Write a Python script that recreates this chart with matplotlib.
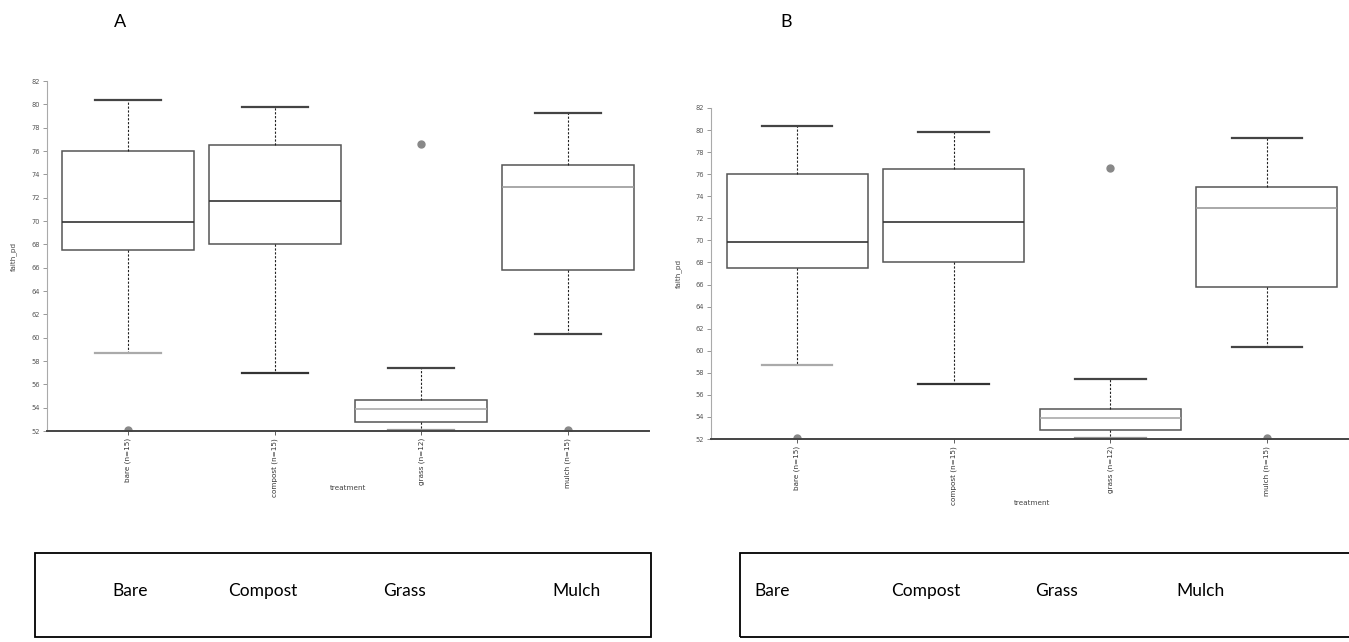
from matplotlib import pyplot as plt
from matplotlib.patches import Rectangle

# box statistics (same data in both panels)
labels  = ["bare (n=15)", "compost (n=15)", "grass (n=12)", "mulch (n=15)"]
whislo  = [58.7, 57.0, 52.1, 60.3]
q1      = [67.5, 68.0, 52.8, 65.8]
med     = [69.9, 71.7, 53.9, 72.9]
q3      = [76.0, 76.5, 54.7, 74.8]
whishi  = [80.4, 79.8, 57.4, 79.3]
fliers  = [[52.1], [], [76.6], [52.1]]
yticks  = [52, 54, 56, 58, 60, 62, 64, 66, 68, 70, 72, 74, 76, 78, 80, 82]
names   = ["Bare", "Compost", "Grass", "Mulch"]

# little colour differences of the original rendering
med_col = ["#333333", "#333333", "#aaaaaa", "#999999"]
lo_col  = ["#aaaaaa", "#333333", "#999999", "#444444"]

stats = []
for i in range(len(labels)):
    stats.append(dict(label=labels[i], whislo=whislo[i], q1=q1[i], med=med[i],
                      q3=q3[i], whishi=whishi[i], fliers=fliers[i]))

fig = plt.figure(figsize=(13.49, 6.42), dpi=100)
W, H = 1349.0, 642.0


def panel(rect, ylab_x, xlab_y):
    ax = fig.add_axes(rect)
    pos = list(range(len(stats)))
    res = ax.bxp(stats, positions=pos, widths=0.9, patch_artist=True,
                 boxprops=dict(facecolor="white", edgecolor="#555555", linewidth=1.1),
                 medianprops=dict(color="#333333", linewidth=1.2),
                 whiskerprops=dict(color="#222222", linewidth=0.8, linestyle=(0, (2, 1.5))),
                 capprops=dict(color="#444444", linewidth=1.6),
                 capwidths=0.45,
                 flierprops=dict(marker="o", markersize=5, markerfacecolor="#888888",
                                 markeredgecolor="#888888"))
    for i, m in enumerate(res["medians"]):
        m.set_color(med_col[i])
    for i in range(len(stats)):
        res["caps"][2 * i].set_color(lo_col[i])
    ax.set_xlim(-0.55, 3.55)
    ax.set_ylim(52, 82)
    ax.set_yticks(yticks)
    ax.set_yticklabels([str(v) for v in yticks], fontsize=4.8, color="#555555")
    ax.set_xticks(pos)
    ax.set_xticklabels(labels, rotation=90, fontsize=5.2, color="#333333")
    ax.tick_params(axis="y", length=3, width=0.6, color="#888888", pad=2)
    ax.tick_params(axis="x", length=3, width=0.6, color="#444444", pad=2)
    for s in ["top", "right"]:
        ax.spines[s].set_visible(False)
    ax.spines["left"].set_color("#aaaaaa")
    ax.spines["left"].set_linewidth(0.8)
    ax.spines["bottom"].set_color("#444444")
    ax.spines["bottom"].set_linewidth(1.4)
    ax.set_ylabel("faith_pd", fontsize=5.2, color="#444444")
    ax.yaxis.set_label_coords(ylab_x, 0.5)
    ax.set_xlabel("treatment", fontsize=5.2, color="#444444")
    ax.xaxis.set_label_coords(0.5, xlab_y)
    return ax


# panel A
panel([47 / W, (H - 431) / H, 602 / W, 350 / H], -0.05, -0.155)
# panel B (runs off the right edge)
panel([711 / W, (H - 439) / H, 642 / W, 331 / H], -0.045, -0.185)

fig.text(120 / W, 1 - 22 / H, "A", fontsize=13, family="Lato", ha="center", va="center")
fig.text(786 / W, 1 - 22 / H, "B", fontsize=13, family="Lato", ha="center", va="center")

# boxes with the treatment names underneath
fig.patches.append(Rectangle((35 / W, 1 - 637 / H), 616 / W, 84 / H, fill=False,
                             edgecolor="black", linewidth=1.3, transform=fig.transFigure))
fig.patches.append(Rectangle((740 / W, 1 - 637 / H), 640 / W, 84 / H, fill=False,
                             edgecolor="black", linewidth=1.3, transform=fig.transFigure))
xa = [130, 263, 405, 577]
xb = [772, 926, 1056, 1200]
for i in range(len(names)):
    fig.text(xa[i] / W, 1 - 591 / H, names[i], fontsize=12.5, family="Lato",
             ha="center", va="center")
    fig.text(xb[i] / W, 1 - 591 / H, names[i], fontsize=12.5, family="Lato",
             ha="center", va="center")

plt.savefig("out.png", dpi=100)
